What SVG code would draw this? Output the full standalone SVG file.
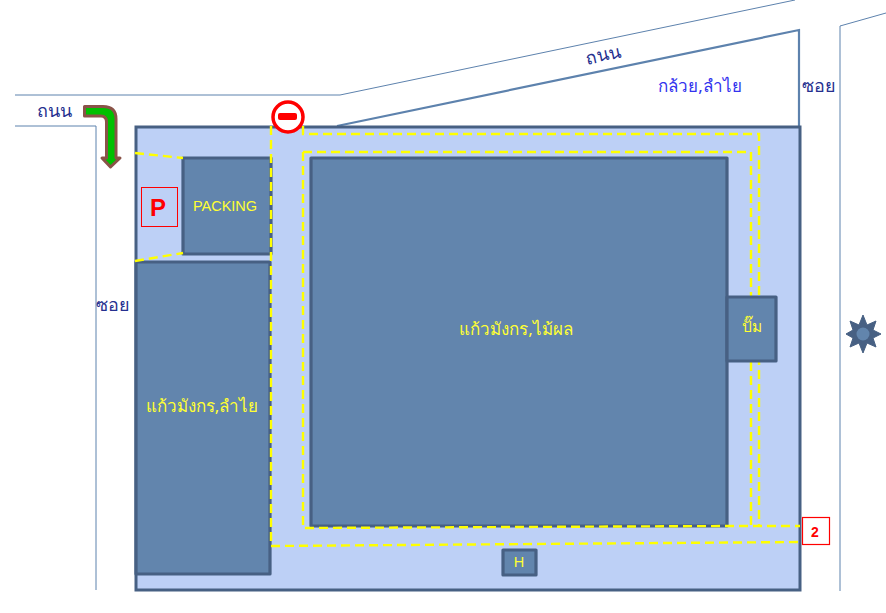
<svg xmlns="http://www.w3.org/2000/svg" width="886" height="613" viewBox="0 0 886 613">
<style>
.road{fill:none;stroke:#5d82ad;stroke-width:1}
.block{fill:#6285ad;stroke:#476083;stroke-width:3.200;stroke-linejoin:round}
.dash{fill:none;stroke:#ffff00;stroke-width:2.400;stroke-dasharray:9 5}
.t{font-family:"Noto Sans","Liberation Sans",sans-serif}
.y{fill:#ffff33;text-anchor:middle}
.n{fill:#26308f;text-anchor:middle;font-size:18px}
.tag{fill:none;stroke:#ff0000;stroke-width:1}
</style>
<rect width="886" height="613" fill="#fff"/>
<g id="connectors">
<path class="road" d="M15 95H340L795 0"/>
<path class="road" d="M15 126H96V590"/>
<path class="road" d="M840 591V26L886 13"/>
<path class="road" style="stroke-width:2.200" d="M337 126L799 30V126"/>
</g>
<g id="site"><rect x="136" y="127" width="664" height="463" fill="#bdd0f6" stroke="#476083" stroke-width="3"/></g>
<g id="packing"><rect class="block" x="183" y="158" width="88" height="96"/>
<text class="y" x="225" y="211" font-size="14.500" font-family="Liberation Sans,sans-serif">PACKING</text></g>
<g id="longan-block"><rect class="block" x="136" y="262" width="134" height="312"/>
<text class="t y" x="202" y="412" font-size="17">แก้วมังกร,ลำไย</text></g>
<g id="main-block"><rect class="block" x="311" y="158" width="416" height="368"/>
<text class="t y" x="516" y="335" font-size="17">แก้วมังกร,ไม้ผล</text></g>
<g id="dashes">
<path class="dash" d="M303 126V134H759V526"/>
<path class="dash" d="M303 152H751V526"/>
<path class="dash" d="M303 152V528L727 526H800"/>
<path class="dash" d="M271 126V546L800 542"/>
<path class="dash" d="M135 153L183 158"/>
<path class="dash" d="M135 261L183 253"/>
</g>
<g id="pump"><rect class="block" x="727" y="297" width="49" height="64"/>
<text class="t y" x="752" y="332" font-size="15.500">ปั๊ม</text></g>
<g id="h"><rect class="block" x="503" y="550" width="33" height="25"/>
<text class="y" x="519" y="567" font-size="14.500" font-family="Liberation Sans,sans-serif">H</text></g>
<g id="parking"><rect class="tag" x="141.500" y="187.500" width="36" height="39"/>
<text x="158" y="216" text-anchor="middle" font-family="Liberation Sans,sans-serif" font-weight="700" font-size="24" fill="#ff0000">P</text></g>
<g id="no-entry"><circle cx="288" cy="117" r="15" fill="#fff" stroke="#ff0000" stroke-width="3.500"/>
<rect x="278" y="113" width="19" height="7" rx="2" fill="#ff0000"/></g>
<g id="turn-arrow"><path d="M84.500 106.500H103Q116 106.500 116 119V158H120L110.500 167L102 158H106.500V122Q106.500 116 101 116H84.500Z" fill="#00c000" stroke="#8a5348" stroke-width="3" stroke-linejoin="round"/></g>
<g id="sign-2"><rect x="802.500" y="517.500" width="27" height="27" fill="#fff" stroke="#ff0000" stroke-width="1.200"/>
<text x="815" y="537" text-anchor="middle" font-family="Liberation Sans,sans-serif" font-weight="700" font-size="14" fill="#ff0000">2</text></g>
<g id="sun"><polygon points="863,315 867,325 876,321 873,330 881,334 873,338 876,347 867,343 863,353 859,343 850,347 853,338 846,334 853,330 850,321 859,325" fill="#476083" stroke="#476083" stroke-linejoin="round"/>
<circle cx="863" cy="334" r="6.500" fill="#6285ad"/></g>
<g id="labels">
<text class="t n" x="54" y="117">ถนน</text>
<text class="t n" x="603" y="61" transform="rotate(-12 603 55)">ถนน</text>
<text class="t" x="700" y="92" text-anchor="middle" font-size="17" fill="#3333ee">กล้วย,ลำไย</text>
<text class="t n" x="818.500" y="92">ซอย</text>
<text class="t n" x="112.500" y="311">ซอย</text>
</g>
</svg>
